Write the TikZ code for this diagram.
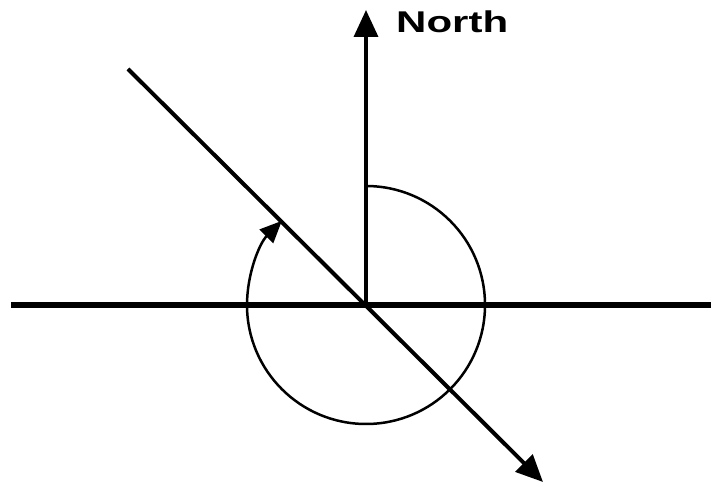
\documentclass[tikz,border=0pt]{standalone}
\usepackage{fontspec}
\newfontfamily\labfont{Liberation Sans}
\usetikzlibrary{arrows.meta}
\begin{document}
\begin{tikzpicture}[x=1pt,y=1pt,
  bigtip/.style={-{Triangle[length=27pt,width=24pt]}},
  smalltip/.style={-{Triangle[length=22pt,width=19pt]}},
  labelstyle/.style={inner sep=0pt,anchor=base west,font=\labfont\bfseries\fontsize{30}{33}\selectfont}]
\useasboundingbox (0,0) rectangle (711,484);
\coordinate (O) at (366,179);
\coordinate (W) at (11,179);
\coordinate (E) at (711,179);
\coordinate (N) at (366,474);
\coordinate (DA) at (128,415);
\coordinate (DB) at (543,2);
\coordinate (T) at (366,298);
% horizontal axis
\draw[line width=5.5pt] (W) -- (E);
% north axis
\draw[line width=3.5pt,bigtip] (O) -- (N);
\node[labelstyle] (north) at (396,451) {\scalebox{1.4}[1]{North}};
% diagonal heading line
\draw[line width=4pt,bigtip] (DA) -- (DB);
% angle arc
\draw[line width=2.5pt,smalltip] (T) arc[start angle=90,end angle=-225,radius=119];
\end{tikzpicture}
\end{document}
